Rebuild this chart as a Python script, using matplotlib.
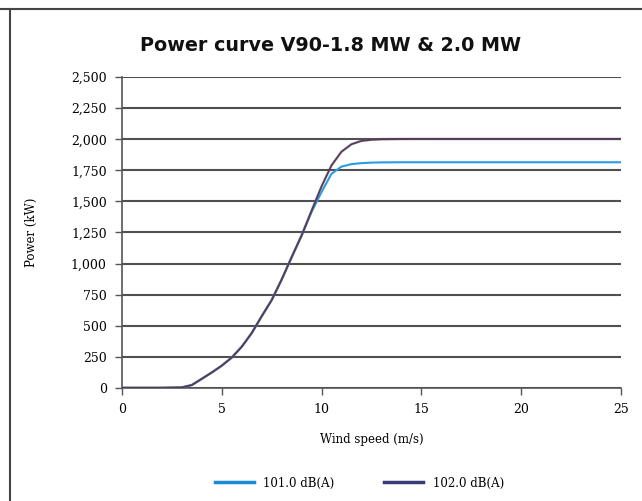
import matplotlib.pyplot as plt
from matplotlib.lines import Line2D

# Wind speed (m/s) and power (kW)
wind_speed = [0, 1, 2, 3, 3.5, 4, 4.5, 5, 5.5, 6, 6.5, 7, 7.5, 8, 8.5, 9, 9.5,
              10, 10.5, 11, 11.5, 12, 12.5, 13, 14, 15, 16, 17, 18, 19, 20,
              21, 22, 23, 24, 25]
power_18mw = [0, 0, 0, 3, 22, 72, 123, 178, 243, 330, 440, 575, 705, 870, 1050,
              1225, 1415, 1575, 1722, 1780, 1800, 1808, 1812, 1814, 1815, 1815,
              1815, 1815, 1815, 1815, 1815, 1815, 1815, 1815, 1815, 1815]
power_20mw = [0, 0, 0, 3, 22, 72, 123, 178, 243, 330, 440, 575, 705, 870, 1050,
              1225, 1425, 1620, 1790, 1900, 1960, 1987, 1996, 2000, 2002, 2003,
              2003, 2003, 2003, 2003, 2003, 2003, 2003, 2003, 2003, 2003]
series_labels = ['101.0 dB(A)', '102.0 dB(A)']
x_ticks = [0, 5, 10, 15, 20, 25]
y_ticks = [0, 250, 500, 750, 1000, 1250, 1500, 1750, 2000, 2250, 2500]

serif = 'DejaVu Serif'
blue = '#2c9be3'
dark = '#45425e'

fig = plt.figure(figsize=(6.42, 5.01), dpi=100)
ax = fig.add_axes([0.190, 0.226, 0.777, 0.620])

ax.plot(wind_speed, power_18mw, color=blue, lw=1.5, zorder=3)
ax.plot(wind_speed, power_20mw, color='#e0405a', lw=2.0, alpha=0.35, zorder=4)
ax.plot(wind_speed, power_20mw, color=dark, lw=1.3, zorder=5)

ax.set_xlim(0, 25)
ax.set_ylim(0, 2500)
ax.set_xticks(x_ticks)
ax.set_yticks(y_ticks)
ax.set_xticklabels([str(t) for t in x_ticks], fontfamily=serif, fontsize=9)
ax.set_yticklabels(['{:,}'.format(t) for t in y_ticks], fontfamily=serif, fontsize=9)
ax.tick_params(axis='both', direction='out', length=5, width=1, color='#555555', pad=6)

ax.grid(axis='y', color='#505050', lw=1.5)
ax.set_axisbelow(True)
for side in ['top', 'right']:
    ax.spines[side].set_visible(False)
for side in ['left', 'bottom']:
    ax.spines[side].set_color('#555555')
    ax.spines[side].set_linewidth(1.2)

ax.set_xlabel('Wind speed (m/s)', fontfamily=serif, fontsize=8.5, labelpad=12)
ax.set_ylabel('Power (kW)', fontfamily=serif, fontsize=8.5, labelpad=24)

fig.text(0.515, 0.91, 'Power curve V90-1.8 MW & 2.0 MW', ha='center', va='center',
         fontsize=13.8, fontweight='bold', color='#111111')

handles = [Line2D([], [], color='#1a8ad4', lw=2.5),
           Line2D([], [], color='#3a3a78', lw=2.5)]
fig.legend(handles, series_labels, loc='center', bbox_to_anchor=(0.56, 0.036),
           ncol=2, frameon=False, handlelength=3.3, columnspacing=4.2,
           prop={'family': serif, 'size': 8.5})

# Outer frame of the scanned chart (top and left edges)
fig.add_artist(Line2D([0.0, 1.0], [0.982, 0.982], color='#444444', lw=1.5))
fig.add_artist(Line2D([0.015, 0.015], [0.0, 0.982], color='#444444', lw=1.5))

fig.savefig('out.png', dpi=100)
